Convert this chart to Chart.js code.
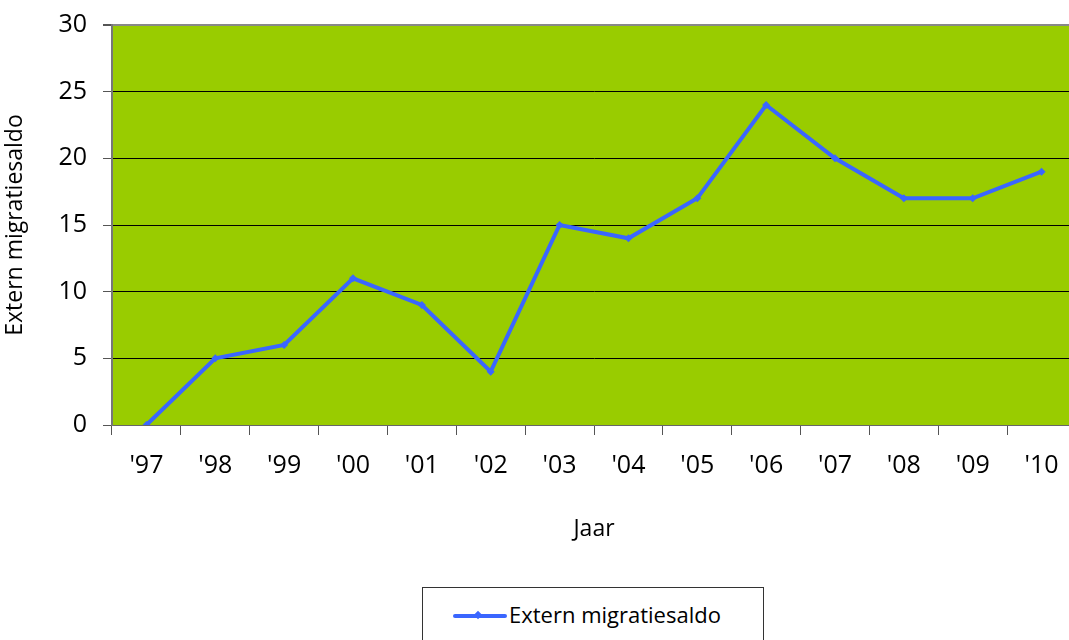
<!DOCTYPE html>
<html>
<head>
<meta charset="utf-8">
<script src="https://cdn.jsdelivr.net/npm/chart.js@4/dist/chart.umd.min.js"></script>
<style>
  html, body { margin: 0; padding: 0; background: #fff; overflow: hidden; }
  #wrap { position: relative; width: 1069px; height: 640px; overflow: hidden; }
  #chart { position: absolute; left: 0; top: 0; }
  #legend {
    position: absolute; left: 422px; top: 587px; width: 342px; height: 70px;
    border: 1px solid #333; box-sizing: border-box;
    font-family: 'Open Sans', 'Noto Sans', sans-serif; font-size: 22px; color: #000;
  }
  #legend .line { position: absolute; left: 30px; top: 26px; width: 54px; height: 4px; background: #3a66ff; border-radius: 2px; }
  #legend .dot { position: absolute; left: 52px; top: 24px; width: 6px; height: 6px; background: #3a66ff; transform: rotate(45deg); }
  #legend .label { position: absolute; left: 86px; top: 11px; }
</style>
</head>
<body>
<div id="wrap">
  <canvas id="chart" width="1080" height="545"></canvas>
  <div id="legend"><div class="line"></div><div class="dot"></div><span class="label">Extern migratiesaldo</span></div>
</div>
<script>
const years = ["'97", "'98", "'99", "'00", "'01", "'02", "'03", "'04", "'05", "'06", "'07", "'08", "'09", "'10"];
const saldo = [0, 5, 6, 11, 9, 4, 15, 14, 17, 24, 20, 17, 17, 19];
const yTicks = [0, 5, 10, 15, 20, 25, 30];

const FONT = "'Open Sans', 'Noto Sans', sans-serif";

// green plot background
const plotBg = {
  id: 'plotBg',
  beforeDraw(chart) {
    const { ctx, chartArea: a } = chart;
    ctx.save();
    ctx.fillStyle = '#99cc00';
    ctx.fillRect(a.left, a.top, a.right - a.left, a.bottom - a.top);
    ctx.restore();
  }
};

new Chart(document.getElementById('chart'), {
  type: 'line',
  data: {
    labels: years,
    datasets: [{
      label: 'Extern migratiesaldo',
      data: saldo,
      borderColor: '#3a66ff',
      backgroundColor: '#3a66ff',
      borderWidth: 4,
      pointStyle: 'rectRot',
      pointRadius: 4,
      pointBorderWidth: 0,
      tension: 0
    }]
  },
  options: {
    responsive: false,
    animation: false,
    layout: { padding: { top: 25, right: 2, left: 0, bottom: 0 } },
    plugins: { legend: { display: false }, tooltip: { enabled: false } },
    scales: {
      x: {
        offset: true,
        grid: {
          offset: true, drawOnChartArea: false, drawTicks: true,
          tickLength: 10, color: '#555', tickColor: '#555'
        },
        border: { color: '#666', width: 1 },
        ticks: { color: '#000', font: { family: FONT, size: 25 }, padding: 16, maxRotation: 0 },
        title: { display: true, text: 'Jaar', color: '#000', font: { family: FONT, size: 23 }, padding: { top: 0, bottom: 2 } },
        afterFit(scale) { scale.height = 120; scale.paddingLeft = 0; scale.paddingRight = 0; }
      },
      y: {
        min: 0, max: 30,
        afterBuildTicks(scale) { scale.ticks = yTicks.map(v => ({ value: v })); },
        grid: {
          color: ctx => (ctx.tick && ctx.tick.value === 30 ? '#888' : (ctx.tick && ctx.tick.value === 0 ? '#666' : '#000')),
          lineWidth: ctx => (ctx.tick && ctx.tick.value === 30 ? 2 : 1),
          tickLength: 9, tickColor: '#555'
        },
        border: { color: '#777', width: 2 },
        ticks: { color: '#000', font: { family: FONT, size: 25 }, padding: 16 },
        title: { display: true, text: 'Extern migratiesaldo', color: '#000', font: { family: FONT, size: 23 }, padding: { top: 2, bottom: 0 } },
        afterFit(scale) { scale.width = 112; scale.paddingTop = 0; scale.paddingBottom = 0; }
      }
    }
  },
  plugins: [plotBg]
});
</script>
</body>
</html>
